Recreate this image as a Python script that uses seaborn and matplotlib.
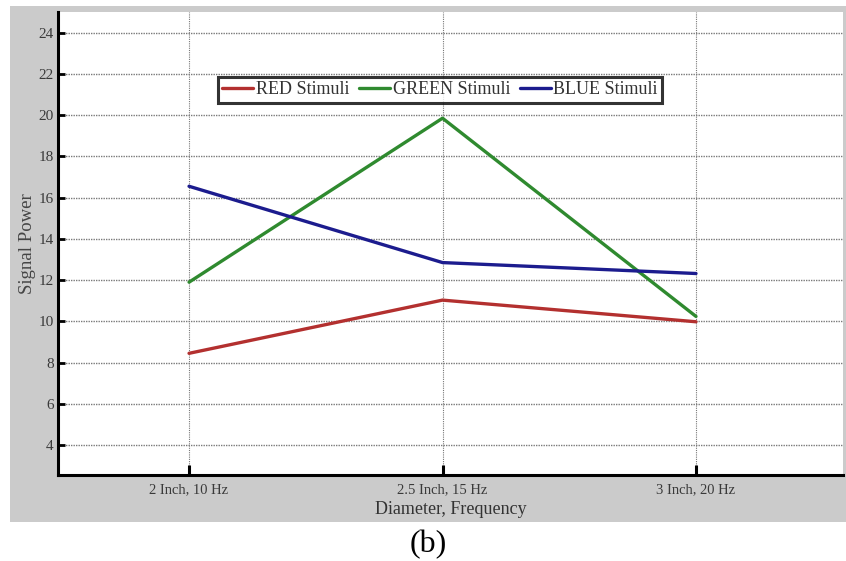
import matplotlib
matplotlib.use("Agg")
import matplotlib.pyplot as plt
from matplotlib.patches import Rectangle
import seaborn as sns
import pandas as pd

categories = ["2 Inch, 10 Hz", "2.5 Inch, 15 Hz", "3 Inch, 20 Hz"]
red_vals = [8.45, 11.03, 9.98]
green_vals = [11.9, 19.85, 10.24]
blue_vals = [16.55, 12.85, 12.32]
series_names = ["RED Stimuli", "GREEN Stimuli", "BLUE Stimuli"]
yticks = [4, 6, 8, 10, 12, 14, 16, 18, 20, 22, 24]

rows = []
for name, vals in zip(series_names, [red_vals, green_vals, blue_vals]):
    for c, v in zip(categories, vals):
        rows.append({"Diameter, Frequency": c, "Signal Power": v, "Series": name})
df = pd.DataFrame(rows)

sns.set_style("white")
plt.rcParams["font.family"] = ["Liberation Serif", "DejaVu Serif"]

W, H = 846, 561
fig = plt.figure(figsize=(W / 100, H / 100), dpi=100, facecolor="white")
bg = Rectangle((10 / W, 1 - 522 / H), (846 - 10) / W, (522 - 6) / H,
               transform=fig.transFigure, facecolor="#cbcbcb",
               edgecolor="none", zorder=-10)
fig.add_artist(bg)
ax = fig.add_axes([58 / W, 1 - 475 / H, (843 - 58) / W, (475 - 12) / H])
ax.set_zorder(1)
ax.set_facecolor("white")

palette = {"RED Stimuli": "#b3302f", "GREEN Stimuli": "#2f8a2f", "BLUE Stimuli": "#1c1c8e"}
sns.lineplot(data=df, x="Diameter, Frequency", y="Signal Power", hue="Series",
             palette=palette, sort=False, linewidth=2.4, ax=ax, zorder=3)

ax.set_xlim(-0.517, 2.58)
ax.set_ylim(2.55, 25.0)
ax.set_yticks(yticks)
ax.set_xticks(range(len(categories)))
ax.set_xticklabels(categories)

ax.grid(True, which="major", axis="y", linestyle=(0, (1, 0.8)), color="#7a7a7a", linewidth=1.0, zorder=1)
ax.grid(True, which="major", axis="x", linestyle=(0, (1, 1)), color="#777777", linewidth=0.8, zorder=1)

for s in ["top", "right"]:
    ax.spines[s].set_visible(False)
for s in ["left", "bottom"]:
    ax.spines[s].set_color("black")
    ax.spines[s].set_linewidth(2.2)

ax.tick_params(axis="y", which="major", left=True, direction="in", length=5, width=2, color="black",
               labelsize=11, labelcolor="#3a3a3a", pad=3)
ax.tick_params(axis="x", which="major", bottom=True, direction="in", length=7, width=2.2, color="black",
               labelsize=10.5, labelcolor="#3a3a3a", pad=6)

ax.set_xlabel("Diameter, Frequency", fontsize=13, color="#333333", labelpad=3)
ax.set_ylabel("Signal Power", fontsize=13.5, color="#444444", labelpad=2)

leg = ax.legend(loc="center", bbox_to_anchor=((440 - 58) / (843 - 58), (475 - 90) / (475 - 12)),
                ncol=3, fontsize=13, frameon=True, fancybox=False, handlelength=1.7,
                handletextpad=0.15, columnspacing=0.55, borderpad=0.25, borderaxespad=0)
leg.get_frame().set_edgecolor("black")
leg.get_frame().set_linewidth(2.2)
for t in leg.get_texts():
    t.set_color("#333333")
leg.set_zorder(5)

fig.text(428 / W, 1 - 545 / H, "(b)", ha="center", va="center", fontsize=23, color="black")

fig.savefig("out.png", dpi=100, facecolor="white")
